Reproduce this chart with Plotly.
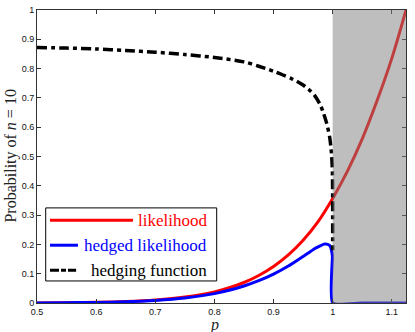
import plotly.graph_objects as go

# values
p_like = [0.50, 0.55, 0.60, 0.65, 0.70, 0.75, 0.80, 0.825, 0.85, 0.875, 0.90, 0.925,
          0.95, 0.975, 1.00, 1.025, 1.05, 1.075, 1.10, 1.124]
likelihood = [0.0004, 0.0009, 0.0022, 0.0048, 0.0101, 0.0201, 0.038, 0.052, 0.070,
              0.094, 0.1245, 0.164, 0.214, 0.277, 0.357, 0.45, 0.56, 0.69, 0.835, 1.0]

p_hedge = [0.50, 0.55, 0.60, 0.65, 0.70, 0.75, 0.80, 0.85, 0.875, 0.90, 0.915, 0.93,
           0.94, 0.95, 0.96, 0.97, 0.98, 0.985, 0.99, 0.995, 0.998, 0.9995, 1.0]
hedging = [0.872, 0.870, 0.867, 0.862, 0.856, 0.848, 0.838, 0.823, 0.808, 0.791,
           0.779, 0.766, 0.756, 0.744, 0.728, 0.707, 0.672, 0.645, 0.612, 0.565,
           0.510, 0.450, 0.18]

p_hedged = [0.50, 0.55, 0.60, 0.65, 0.70, 0.75, 0.80, 0.825, 0.85, 0.875, 0.90, 0.925,
            0.95, 0.96, 0.97, 0.98, 0.985, 0.99, 0.995, 0.998, 0.9995, 1.0, 1.05, 1.124]
hedged_likelihood = [0.0003, 0.0008, 0.0019, 0.0041, 0.0086, 0.017, 0.032, 0.0433,
                     0.058, 0.076, 0.0985, 0.126, 0.159, 0.1725, 0.186, 0.196, 0.201,
                     0.201, 0.196, 0.180, 0.160, 0.0, 0.0, 0.0]

X_RANGE = [0.5, 1.124]
SHADE_START = 1.0

x_ticks = [0.5, 0.6, 0.7, 0.8, 0.9, 1.0, 1.1]
x_tick_labels = ["0.5", "0.6", "0.7", "0.8", "0.9", "1", "1.1"]
y_ticks = [0, 0.1, 0.2, 0.3, 0.4, 0.5, 0.6, 0.7, 0.8, 0.9, 1.0]
y_tick_labels = ["0", "0.1", "0.2", "0.3", "0.4", "0.5", "0.6", "0.7", "0.8", "0.9", "1"]

legend_items = [
    ("likelihood", "#ff0000", "solid", 0.260),
    ("hedged likelihood", "#0000ff", "solid", 0.111),
    ("hedging function", "#000000", "9px,2px,5px,2px", 0.106),
]

SERIF = "Liberation Serif, Times New Roman, serif"

fig = go.Figure()
fig.add_trace(go.Scatter(x=p_like, y=likelihood, mode="lines",
                         line=dict(color="#ff0000", width=3, shape="spline", smoothing=1.0)))
fig.add_trace(go.Scatter(x=p_hedged, y=hedged_likelihood, mode="lines",
                         line=dict(color="#0000ff", width=3, shape="spline", smoothing=0.5)))
fig.add_trace(go.Scatter(x=p_hedge, y=hedging, mode="lines",
                         line=dict(color="#000000", width=3.5, shape="spline", smoothing=0.8,
                                   dash="10px,4px,4px,4px")))

shapes = [dict(type="rect", xref="x", yref="y", x0=SHADE_START, x1=X_RANGE[1], y0=0, y1=1,
               fillcolor="rgba(125,125,125,0.5)", line=dict(width=0), layer="above")]

# hand-built legend box (MATLAB style, right aligned coloured text)
shapes.append(dict(type="rect", xref="paper", yref="paper", x0=0.0236, x1=0.487,
                   y0=0.0752, y1=0.3246, fillcolor="white",
                   line=dict(color="black", width=1), layer="above"))
annotations = []
row_y = [0.2826, 0.1972, 0.1117]
for (label, color, dash, x_end), y in zip(legend_items, row_y):
    shapes.append(dict(type="line", xref="paper", yref="paper", x0=0.0352, x1=x_end,
                       y0=y, y1=y, line=dict(color=color, width=3, dash=dash), layer="above"))
    annotations.append(dict(text=label, xref="paper", yref="paper", x=0.466, y=y,
                            xanchor="right", yanchor="middle", showarrow=False,
                            font=dict(family=SERIF, size=17, color=color)))

annotations.append(dict(text="Probability of <i>n</i> = 10", xref="paper", yref="paper",
                        x=-0.073, y=0.5, textangle=-90, showarrow=False,
                        xanchor="center", yanchor="middle",
                        font=dict(family=SERIF, size=16, color="#222")))
annotations.append(dict(text="<i>p</i>", xref="paper", yref="paper", x=0.48, y=-0.074,
                        showarrow=False, xanchor="center", yanchor="middle",
                        font=dict(family=SERIF, size=16, color="#222")))

axis_common = dict(showgrid=False, zeroline=False, showline=True, linecolor="#333",
                   linewidth=1, mirror="ticks", ticks="inside", ticklen=4,
                   tickcolor="#333", automargin=False,
                   tickfont=dict(family="Liberation Sans, Arial", size=9, color="#111"))
fig.update_layout(
    width=415, height=332,
    margin=dict(l=37, r=9, t=10, b=29, autoexpand=False),
    paper_bgcolor="white", plot_bgcolor="white",
    showlegend=False,
    xaxis=dict(range=X_RANGE, tickvals=x_ticks, ticktext=x_tick_labels, **axis_common),
    yaxis=dict(range=[0, 1], tickvals=y_ticks, ticktext=y_tick_labels, **axis_common),
    shapes=shapes,
    annotations=annotations,
)
# drop the browser's default 8px body margin so the figure sits at the window corner
fig.write_html("out.html", config={"displayModeBar": False},
               post_script="document.body.style.margin='0';")
